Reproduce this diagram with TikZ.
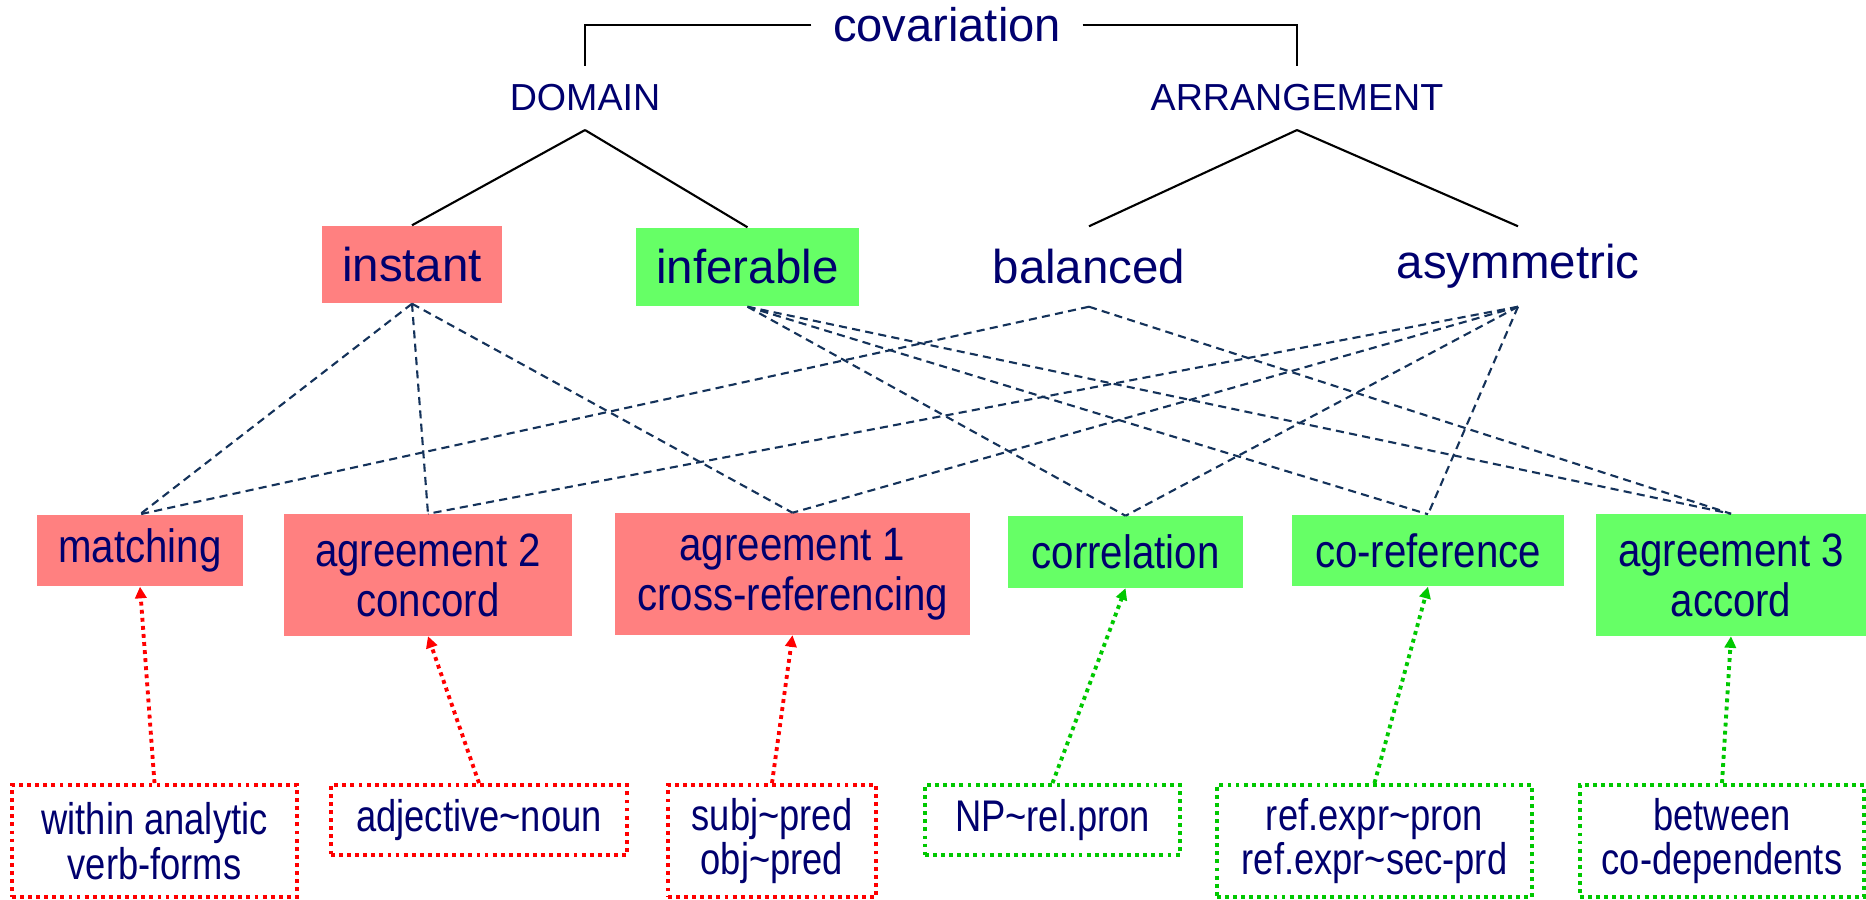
\documentclass[tikz,border=0pt]{standalone}
\usepackage{fontspec}
\setmainfont{Liberation Sans}
\newfontfamily\narrowfont{Liberation Sans}[FakeStretch=0.86]
\newfontfamily\tightfont{Liberation Sans}[FakeStretch=0.82]
\usetikzlibrary{arrows.meta}

\definecolor{ink}{RGB}{0,0,110}
\definecolor{linkblue}{RGB}{20,50,90}
\definecolor{redfill}{RGB}{255,128,128}
\definecolor{greenfill}{RGB}{102,255,102}
\definecolor{reddot}{RGB}{255,0,0}
\definecolor{greendot}{RGB}{0,200,0}

\tikzset{
  head/.style={text=ink, font=\fontsize{13.4}{16}\selectfont, inner xsep=0.21cm, inner ysep=0pt},
  dim/.style={text=ink, font=\fontsize{10.7}{13}\selectfont, inner xsep=0pt, inner ysep=0.18cm},
  kind/.style={text=ink, font=\fontsize{13.5}{16}\selectfont, inner sep=0pt, minimum height=0.78cm},
  rule/.style={text=ink, font=\narrowfont\fontsize{13.3}{14.2}\selectfont, align=center, inner sep=0pt},
  example/.style={text=ink, font=\tightfont\fontsize{12.6}{12.6}\selectfont, align=center, inner sep=0pt,
    line width=1.1pt, dash pattern=on 1.1pt off 1.2pt},
  short/.style={minimum height=0.71cm},
  tall/.style={minimum height=1.21cm},
  hook/.style={line width=0.6pt},
  link/.style={linkblue, line width=0.6pt, dash pattern=on 2.3pt off 1.5pt},
  source/.style={line width=1.1pt, dash pattern=on 1.1pt off 1.2pt,
    -{Triangle[length=3.3pt,width=3.2pt]}}
}

\begin{document}
\begin{tikzpicture}[x=0.01cm, y=-0.01cm]
  \useasboundingbox (0,0) rectangle (1866,900);
  % title and its two dimensions
  \node[head] (cov) at (947,25) {covariation};
  \node[dim] (dom) at (585,98) {DOMAIN};
  \node[dim] (arr) at (1297,98) {ARRANGEMENT};
  \draw[hook] (cov.west) -| (dom.north);
  \draw[hook] (cov.east) -| (arr.north);
  % kinds
  \node[kind, fill=redfill, minimum width=1.80cm, minimum height=0.77cm] (instant) at (412,264.5) {instant};
  \node[kind, fill=greenfill, minimum width=2.23cm] (inferable) at (747.5,267) {inferable};
  \node[kind, minimum height=0.79cm] (balanced) at (1089,266.5) {balanced};
  \node[kind, minimum height=0.79cm] (asymmetric) at (1518,266.5) {asymmetric};
  \draw[hook] (dom.south) -- (instant.north);
  \draw[hook] (dom.south) -- (inferable.north);
  \draw[hook] (arr.south) -- (balanced.north);
  \draw[hook] (arr.south) -- (asymmetric.north);
  % types of covariation
  \node[rule, short, fill=redfill, minimum width=2.06cm] (matching) at (140,550.5) {matching};
  \node[rule, tall, fill=redfill, minimum width=2.88cm] (concord) at (428,575) {agreement 2\\concord};
  \node[rule, tall, fill=redfill, minimum width=3.55cm] (crossref) at (792.5,574) {agreement 1\\cross-referencing};
  \node[rule, short, fill=greenfill, minimum width=2.35cm] (correlation) at (1125.5,552) {correlation};
  \node[rule, short, fill=greenfill, minimum width=2.72cm] (coref) at (1428,550.5) {co-reference};
  \node[rule, tall, fill=greenfill, minimum width=2.70cm] (accord) at (1731,575) {agreement 3\\accord};
  \foreach \from/\to in {instant/matching, instant/concord, instant/crossref,
      inferable/correlation, inferable/coref, inferable/accord,
      balanced/matching, balanced/accord,
      asymmetric/concord, asymmetric/crossref, asymmetric/correlation, asymmetric/coref}
    \draw[link] (\from.south) -- (\to.north);
  % examples
  \node[example, draw=reddot, minimum width=2.85cm, minimum height=1.12cm] (analytic) at (154.5,841) {within analytic\\verb-forms};
  \node[example, draw=reddot, minimum width=2.96cm, minimum height=0.70cm] (adjnoun) at (479,820) {adjective\textasciitilde{}noun};
  \node[example, draw=reddot, minimum width=2.08cm, minimum height=1.12cm] (subjpred) at (772,841) {subj\textasciitilde{}pred\\obj\textasciitilde{}pred};
  \node[example, draw=greendot, minimum width=2.55cm, minimum height=0.70cm] (relpron) at (1052.5,820) {NP\textasciitilde{}rel.pron};
  \node[example, draw=greendot, minimum width=3.15cm, minimum height=1.12cm] (refexpr) at (1374.5,841) {ref.expr\textasciitilde{}pron\\ref.expr\textasciitilde{}sec-prd};
  \node[example, draw=greendot, minimum width=2.84cm, minimum height=1.12cm] (codep) at (1722,841) {between\\co-dependents};
  \foreach \from/\to in {analytic/matching, adjnoun/concord, subjpred/crossref}
    \draw[source, reddot] (\from.north) -- (\to.south);
  \foreach \from/\to in {relpron/correlation, refexpr/coref, codep/accord}
    \draw[source, greendot] (\from.north) -- (\to.south);
\end{tikzpicture}
\end{document}
